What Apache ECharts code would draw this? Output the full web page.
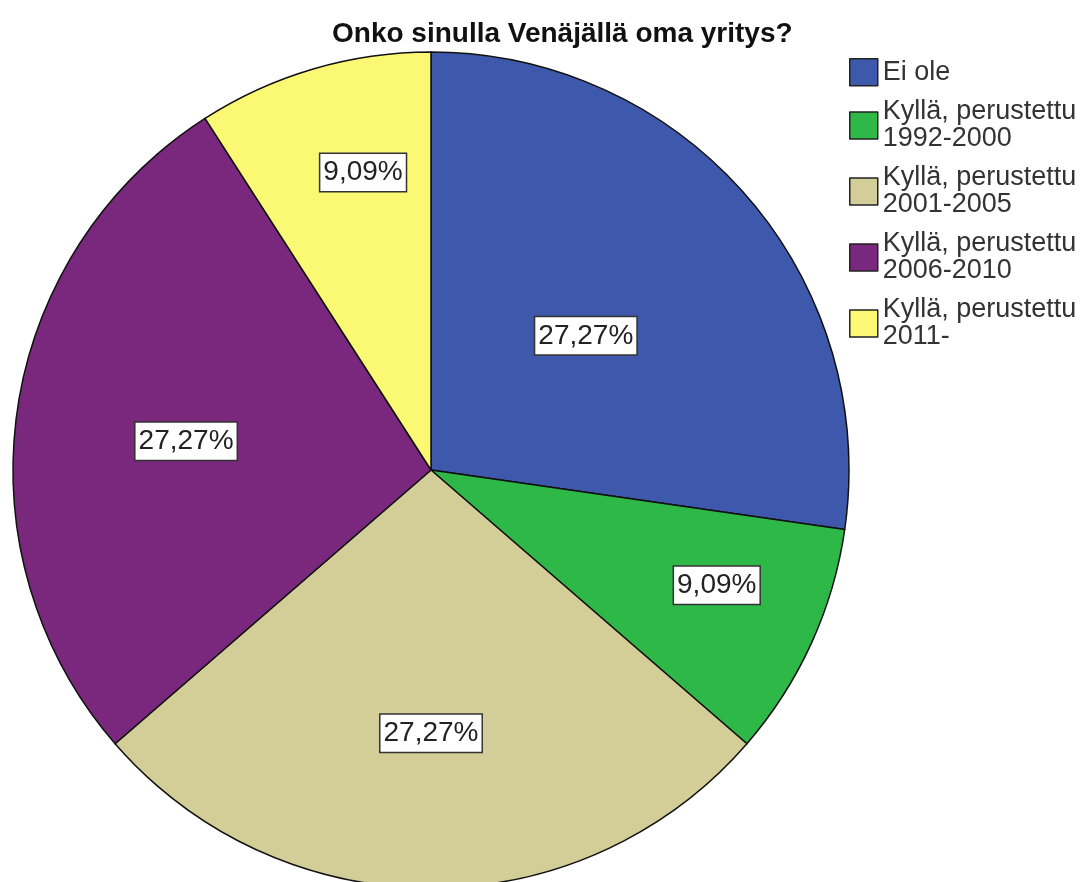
<!DOCTYPE html>
<html>
<head>
<meta charset="utf-8">
<script src="https://cdn.jsdelivr.net/npm/echarts@6/dist/echarts.min.js"></script>
<style>
html,body{margin:0;padding:0;background:#fff;}
#chart{width:1083px;height:882px;}
</style>
</head>
<body>
<div id="chart"></div>
<script>
var titleText = 'Onko sinulla Venäjällä oma yritys?';
var categories = ['Ei ole', 'Kyllä, perustettu 1992-2000', 'Kyllä, perustettu 2001-2005', 'Kyllä, perustettu 2006-2010', 'Kyllä, perustettu 2011-'];
var counts = [3, 1, 3, 3, 1];
var colors = ['#3E58AC', '#2EB848', '#D3CE97', '#7A287D', '#FBF873'];

// label placement per slice, as in the reference (fraction of radius, angle tweak in degrees)
var labelRadiusFactor = [0.49, 0.737, 0.63, 0.59, 0.73];
var labelAngleShift = [0, -2.6, 0, -1.5, 3.5];

var CX = 431, CY = 470, R = 418;
var total = counts.reduce(function (a, b) { return a + b; }, 0);
var midAngles = [];
(function () {
  var acc = 0;
  for (var i = 0; i < counts.length; i++) {
    var a0 = acc / total * 2 * Math.PI;
    acc += counts[i];
    var a1 = acc / total * 2 * Math.PI;
    midAngles.push((a0 + a1) / 2);
  }
})();

var chart = echarts.init(document.getElementById('chart'), null, {renderer: 'canvas'});
chart.setOption({
  animation: false,
  backgroundColor: '#ffffff',
  title: {
    text: titleText,
    left: 332,
    top: 20,
    padding: 0,
    textStyle: {fontFamily: 'Liberation Sans', fontSize: 28, fontWeight: 'bold', color: '#111'}
  },
  legend: {
    orient: 'vertical',
    left: 849,
    top: 58,
    padding: 0,
    itemWidth: 28,
    itemHeight: 27,
    itemGap: 12,
    icon: 'rect',
    selectedMode: false,
    itemStyle: {borderColor: '#222', borderWidth: 1.5},
    formatter: function (name) { return name.replace('perustettu ', 'perustettu\n'); },
    textStyle: {fontFamily: 'Liberation Sans', fontSize: 27, lineHeight: 27, color: '#333'},
    data: categories
  },
  series: [{
    type: 'pie',
    center: [CX, CY],
    radius: [0, R],
    startAngle: 90,
    clockwise: true,
    avoidLabelOverlap: false,
    silent: true,
    emphasis: {disabled: true},
    itemStyle: {borderColor: '#111', borderWidth: 1.5},
    label: {
      show: true,
      position: 'inside',
      formatter: function (p) {
        return (p.value / total * 100).toFixed(2).replace('.', ',') + '%';
      },
      fontFamily: 'Liberation Sans',
      fontSize: 28,
      lineHeight: 30,
      color: '#222',
      backgroundColor: '#ffffff',
      borderColor: '#333',
      borderWidth: 1.5,
      padding: [4, 3, 3, 3]
    },
    labelLine: {show: false},
    labelLayout: function (params) {
      var i = params.dataIndex;
      var f = labelRadiusFactor[i];
      var a = midAngles[i] + labelAngleShift[i] * Math.PI / 180;
      return {
        x: CX + R * f * Math.sin(a),
        y: CY - R * f * Math.cos(a),
        align: 'center',
        verticalAlign: 'middle'
      };
    },
    data: categories.map(function (c, i) {
      return {name: c, value: counts[i], itemStyle: {color: colors[i]}};
    })
  }]
});
</script>
</body>
</html>
